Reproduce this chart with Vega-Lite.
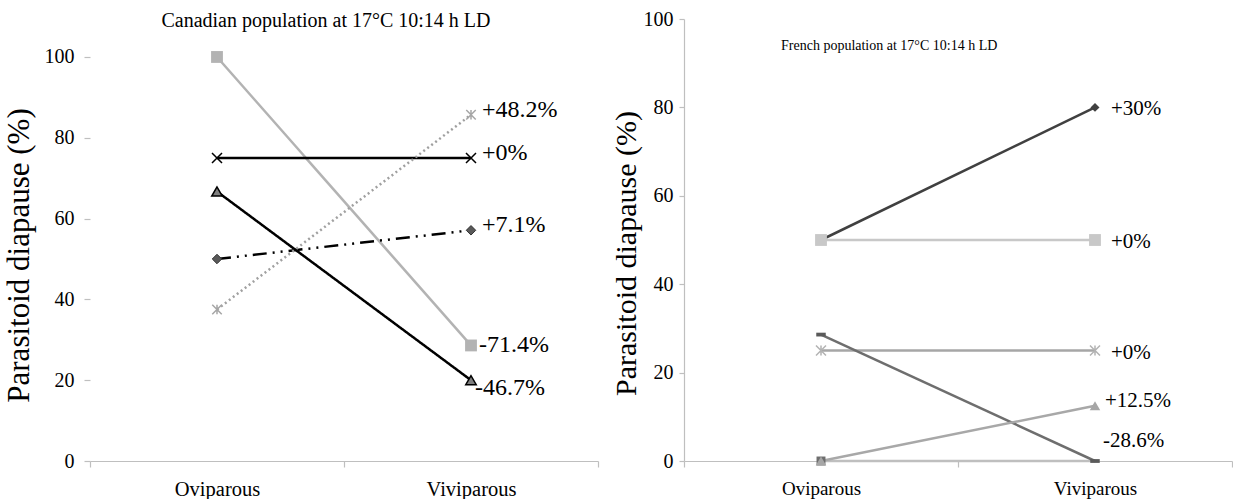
{
  "$schema": "https://vega.github.io/schema/vega-lite/v6.json",
  "padding": {"left": 3, "top": 9, "right": 0, "bottom": 0},
  "spacing": 12,
  "config": {
    "font": "Liberation Serif",
    "view": {"stroke": null},
    "axis": {"labelFont": "Liberation Serif", "titleFont": "Liberation Serif", "labelColor": "#000", "titleColor": "#000", "domainColor": "#bfbfbf", "tickColor": "#bfbfbf", "grid": false, "titleFontWeight": "normal", "domainWidth": 1.2, "tickWidth": 1.2},
    "title": {"font": "Liberation Serif", "fontWeight": "normal", "color": "#000"}
  },
  "resolve": {"scale": {"color": "independent", "strokeDash": "independent", "x": "independent", "y": "independent"}},
  "datasets": {
    "canada": [
      {"series": "c1", "form": "Oviparous", "diapause": 100},
      {"series": "c1", "form": "Viviparous", "diapause": 28.6, "change": "-71.4%"},
      {"series": "c2", "form": "Oviparous", "diapause": 75},
      {"series": "c2", "form": "Viviparous", "diapause": 75, "change": "+0%"},
      {"series": "c3", "form": "Oviparous", "diapause": 66.7},
      {"series": "c3", "form": "Viviparous", "diapause": 20, "change": "-46.7%"},
      {"series": "c4", "form": "Oviparous", "diapause": 50},
      {"series": "c4", "form": "Viviparous", "diapause": 57.1, "change": "+7.1%"},
      {"series": "c5", "form": "Oviparous", "diapause": 37.5},
      {"series": "c5", "form": "Viviparous", "diapause": 85.7, "change": "+48.2%"}
    ],
    "france": [
      {"series": "f6", "form": "Oviparous", "diapause": 0},
      {"series": "f6", "form": "Viviparous", "diapause": 0},
      {"series": "f1", "form": "Oviparous", "diapause": 50},
      {"series": "f1", "form": "Viviparous", "diapause": 80, "change": "+30%"},
      {"series": "f2", "form": "Oviparous", "diapause": 50},
      {"series": "f2", "form": "Viviparous", "diapause": 50, "change": "+0%"},
      {"series": "f3", "form": "Oviparous", "diapause": 25},
      {"series": "f3", "form": "Viviparous", "diapause": 25, "change": "+0%"},
      {"series": "f4", "form": "Oviparous", "diapause": 28.6},
      {"series": "f4", "form": "Viviparous", "diapause": 0, "change": "-28.6%"},
      {"series": "f5", "form": "Oviparous", "diapause": 0},
      {"series": "f5", "form": "Viviparous", "diapause": 12.5, "change": "+12.5%"}
    ]
  },
  "hconcat": [
    {
      "width": 508,
      "height": 442,
      "data": {"name": "canada"},
      "title": {"text": "Canadian population at 17°C 10:14 h LD", "fontSize": 20, "offset": 0, "dy": 12, "anchor": "middle", "frame": "group", "dx": -18},
      "encoding": {
        "x": {"field": "form", "type": "nominal", "scale": {"type": "band", "paddingInner": 0, "paddingOuter": 0}, "axis": {"title": null, "labelAngle": 0, "labelFontSize": 20.5, "labelPadding": 12, "tickBand": "extent", "tickSize": 6}},
        "y": {"field": "diapause", "type": "quantitative", "scale": {"domain": [0, 109.4], "nice": false}, "axis": {"title": "Parasitoid diapause (%)", "titleFontSize": 31, "titleY": 236, "labelFontSize": 20, "values": [0, 20, 40, 60, 80, 100], "tickSize": 6, "labelPadding": 10, "titlePadding": 9, "domain": false}}
      },
      "layer": [
        {
          "data": {"values": [{}]},
          "mark": {"type": "rule", "color": "#bfbfbf", "strokeWidth": 1.2},
          "encoding": {
            "x": {"datum": "Oviparous", "bandPosition": 0},
            "y": {"datum": 0},
            "y2": {"datum": 100}
          }
        },
        {
          "mark": {"type": "line", "strokeWidth": 2.5},
          "encoding": {
            "color": {"field": "series", "type": "nominal", "scale": {"domain": ["c1", "c2", "c3", "c4", "c5"], "range": ["#b3b3b3", "#000000", "#000000", "#000000", "#a0a0a0"]}, "legend": null},
            "strokeDash": {"field": "series", "type": "nominal", "scale": {"domain": ["c1", "c2", "c3", "c4", "c5"], "range": [[1, 0], [1, 0], [1, 0], [14, 6, 2, 6, 2, 6], [2, 3]]}, "legend": null}
          }
        },
        {"transform": [{"filter": "datum.series == 'c1'"}], "mark": {"type": "point", "shape": "square", "filled": true, "color": "#b3b3b3", "opacity": 1, "size": 140}},
        {"transform": [{"filter": "datum.series == 'c2'"}], "mark": {"type": "point", "shape": "M-1,-1L1,1M1,-1L-1,1", "filled": false, "color": "#000", "strokeWidth": 1.5, "opacity": 1, "size": 100}},
        {"transform": [{"filter": "datum.series == 'c3'"}], "mark": {"type": "point", "shape": "triangle-up", "filled": true, "fill": "#7f7f7f", "stroke": "#000", "strokeWidth": 1.5, "opacity": 1, "size": 110}},
        {"transform": [{"filter": "datum.series == 'c4'"}], "mark": {"type": "point", "shape": "diamond", "filled": true, "fill": "#595959", "stroke": "#333", "strokeWidth": 1, "opacity": 1, "size": 90}},
        {"transform": [{"filter": "datum.series == 'c5'"}], "mark": {"type": "point", "shape": "M-1,-1L1,1M1,-1L-1,1M0,-1L0,1", "filled": false, "color": "#a6a6a6", "strokeWidth": 1.5, "opacity": 1, "size": 90}},
        {"transform": [{"filter": "datum.change != null && datum.series != 'c3' && datum.series != 'c1'"}], "mark": {"type": "text", "align": "left", "baseline": "middle", "dx": 11, "dy": -5, "fontSize": 24, "font": "Liberation Serif"}, "encoding": {"text": {"field": "change"}}},
        {"transform": [{"filter": "datum.series == 'c1' && datum.change != null"}], "mark": {"type": "text", "align": "left", "baseline": "middle", "dx": 8, "dy": 0, "fontSize": 24, "font": "Liberation Serif"}, "encoding": {"text": {"field": "change"}}},
        {"transform": [{"filter": "datum.series == 'c3' && datum.change != null"}], "mark": {"type": "text", "align": "left", "baseline": "middle", "dx": 4, "dy": 8, "fontSize": 24, "font": "Liberation Serif"}, "encoding": {"text": {"field": "change"}}}
      ]
    },
    {
      "width": 548,
      "height": 442,
      "data": {"name": "france"},
      "title": {"text": "French population at 17°C 10:14 h LD", "fontSize": 14, "anchor": "start", "frame": "group", "dx": 97, "dy": 44, "offset": 0},
      "encoding": {
        "x": {"field": "form", "type": "nominal", "scale": {"type": "band", "paddingInner": 0, "paddingOuter": 0}, "axis": {"title": null, "labelAngle": 0, "labelFontSize": 19, "labelPadding": 12, "tickBand": "extent", "tickSize": 6}},
        "y": {"field": "diapause", "type": "quantitative", "scale": {"domain": [0, 100]}, "axis": {"title": "Parasitoid diapause (%)", "titleFontSize": 30, "titleY": 234, "labelFontSize": 20, "values": [0, 20, 40, 60, 80, 100], "tickSize": 5, "labelPadding": 6, "titlePadding": 2}}
      },
      "layer": [
        {
          "mark": {"type": "line", "strokeWidth": 2.5},
          "encoding": {
            "color": {"field": "series", "type": "nominal", "scale": {"domain": ["f6", "f1", "f2", "f3", "f4", "f5"], "range": ["#bfbfbf", "#404040", "#c8c8c8", "#a6a6a6", "#6e6e6e", "#a8a8a8"]}, "legend": null}
          }
        },
        {"transform": [{"filter": "datum.series == 'f6' && datum.form == 'Oviparous'"}], "mark": {"type": "point", "shape": "square", "filled": true, "color": "#6e6e6e", "opacity": 1, "size": 80}},
        {"transform": [{"filter": "datum.series == 'f1'"}], "mark": {"type": "point", "shape": "diamond", "filled": true, "color": "#404040", "opacity": 1, "size": 80}},
        {"transform": [{"filter": "datum.series == 'f2'"}], "mark": {"type": "point", "shape": "square", "filled": true, "color": "#c8c8c8", "opacity": 1, "size": 140}},
        {"transform": [{"filter": "datum.series == 'f3'"}], "mark": {"type": "point", "shape": "M-1,-1L1,1M1,-1L-1,1M0,-1L0,1", "filled": false, "color": "#b3b3b3", "strokeWidth": 1.5, "opacity": 1, "size": 100}},
        {"transform": [{"filter": "datum.series == 'f4'"}], "mark": {"type": "point", "shape": "M-1,-0.4L1,-0.4L1,0.4L-1,0.4Z", "filled": true, "color": "#5a5a5a", "opacity": 1, "size": 90}},
        {"transform": [{"filter": "datum.series == 'f5'"}], "mark": {"type": "point", "shape": "triangle-up", "filled": true, "color": "#a6a6a6", "opacity": 1, "size": 110}},
        {"transform": [{"filter": "datum.change != null && datum.series != 'f4' && datum.series != 'f5'"}], "mark": {"type": "text", "align": "left", "baseline": "middle", "dx": 16, "dy": 2, "fontSize": 21, "font": "Liberation Serif"}, "encoding": {"text": {"field": "change"}}},
        {"transform": [{"filter": "datum.series == 'f5' && datum.change != null"}], "mark": {"type": "text", "align": "left", "baseline": "middle", "dx": 10, "dy": -5, "fontSize": 21, "font": "Liberation Serif"}, "encoding": {"text": {"field": "change"}}},
        {"transform": [{"filter": "datum.series == 'f4' && datum.change != null"}], "mark": {"type": "text", "align": "left", "baseline": "middle", "dx": 8, "dy": -20, "fontSize": 21, "font": "Liberation Serif"}, "encoding": {"text": {"field": "change"}}}
      ]
    }
  ]
}
